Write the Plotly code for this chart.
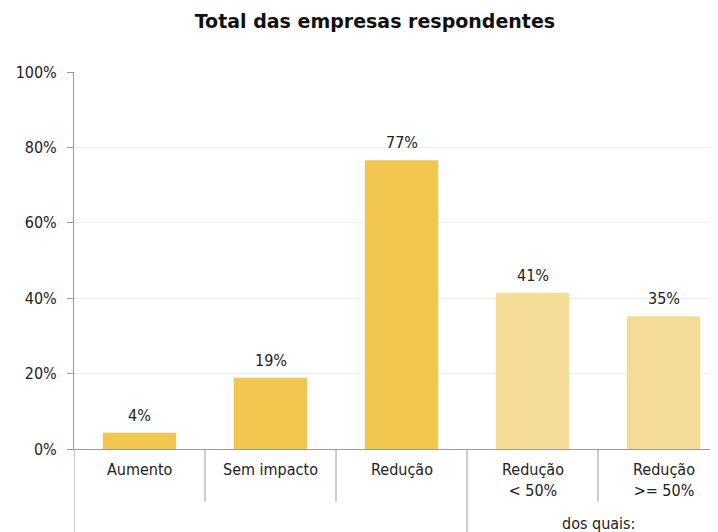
import plotly.graph_objects as go

categories = ["Aumento", "Sem impacto", "Redução", "Redução<br>< 50%", "Redução<br>>= 50%"]
values = [4.3, 18.9, 76.6, 41.4, 35.2]
labels = ["4%", "19%", "77%", "41%", "35%"]
colors = ["#F2C74F", "#F2C74F", "#F2C74F", "#F5DD97", "#F5DD97"]
yticks = [0, 20, 40, 60, 80, 100]
ytick_text = ["0%", "20%", "40%", "60%", "80%", "100%"]

FONT = "DejaVu Sans Condensed, Liberation Sans, sans-serif"
TFONT = "DejaVu Sans, Verdana, sans-serif"
xs = list(range(len(categories)))

fig = go.Figure()
fig.add_trace(go.Bar(
    x=xs, y=values, marker=dict(color=colors, line=dict(width=0)),
    width=0.56, hoverinfo="skip",
))

shapes = []
for xv, yb in [(-0.5, -0.25), (0.5, -0.14), (1.5, -0.14), (2.5, -0.25), (3.5, -0.14), (4.5, -0.14)]:
    shapes.append(dict(type="line", xref="x", yref="paper", x0=xv, x1=xv, y0=0, y1=yb,
                       line=dict(color="#9a9a9a", width=1)))

annotations = []
for xi, v, t in zip(xs, values, labels):
    annotations.append(dict(x=xi, xref="x", y=v, yref="y", text=t, showarrow=False,
                            yanchor="bottom", yshift=6,
                            font=dict(family=FONT, size=16, color="#222222")))
for xi, c in zip(xs, categories):
    annotations.append(dict(x=xi, xref="x", y=-0.025, yref="paper", text=c, showarrow=False,
                            yanchor="top", font=dict(family=FONT, size=16, color="#222222")))
annotations.append(dict(x=3.5, xref="x", y=-0.168, yref="paper", text="dos quais:",
                        showarrow=False, yanchor="top", xanchor="center",
                        font=dict(family=FONT, size=16, color="#222222")))

fig.update_layout(
    width=718, height=532,
    margin=dict(l=66, r=0, t=64, b=91),
    paper_bgcolor="white", plot_bgcolor="white",
    showlegend=False,
    title=dict(text="<b>Total das empresas respondentes</b>", x=0.511, xanchor="center",
               y=0.974, yanchor="middle", font=dict(family=TFONT, size=19, color="#111111")),
    xaxis=dict(range=[-0.5, 4.477], showticklabels=False, showgrid=False, zeroline=False,
               showline=True, linecolor="#9a9a9a", linewidth=1, ticks="", automargin=False),
    yaxis=dict(range=[0, 100], tickvals=yticks, ticktext=ytick_text,
               showgrid=True, gridcolor="#eeeeee", gridwidth=1, zeroline=False,
               showline=True, linecolor="#9a9a9a", linewidth=1,
               ticks="outside", ticklen=6, tickcolor="#9a9a9a", automargin=False,
               ticklabelstandoff=7,
               tickfont=dict(family=FONT, size=16, color="#222222")),
    shapes=shapes, annotations=annotations,
)

fig.write_html("out.html")
